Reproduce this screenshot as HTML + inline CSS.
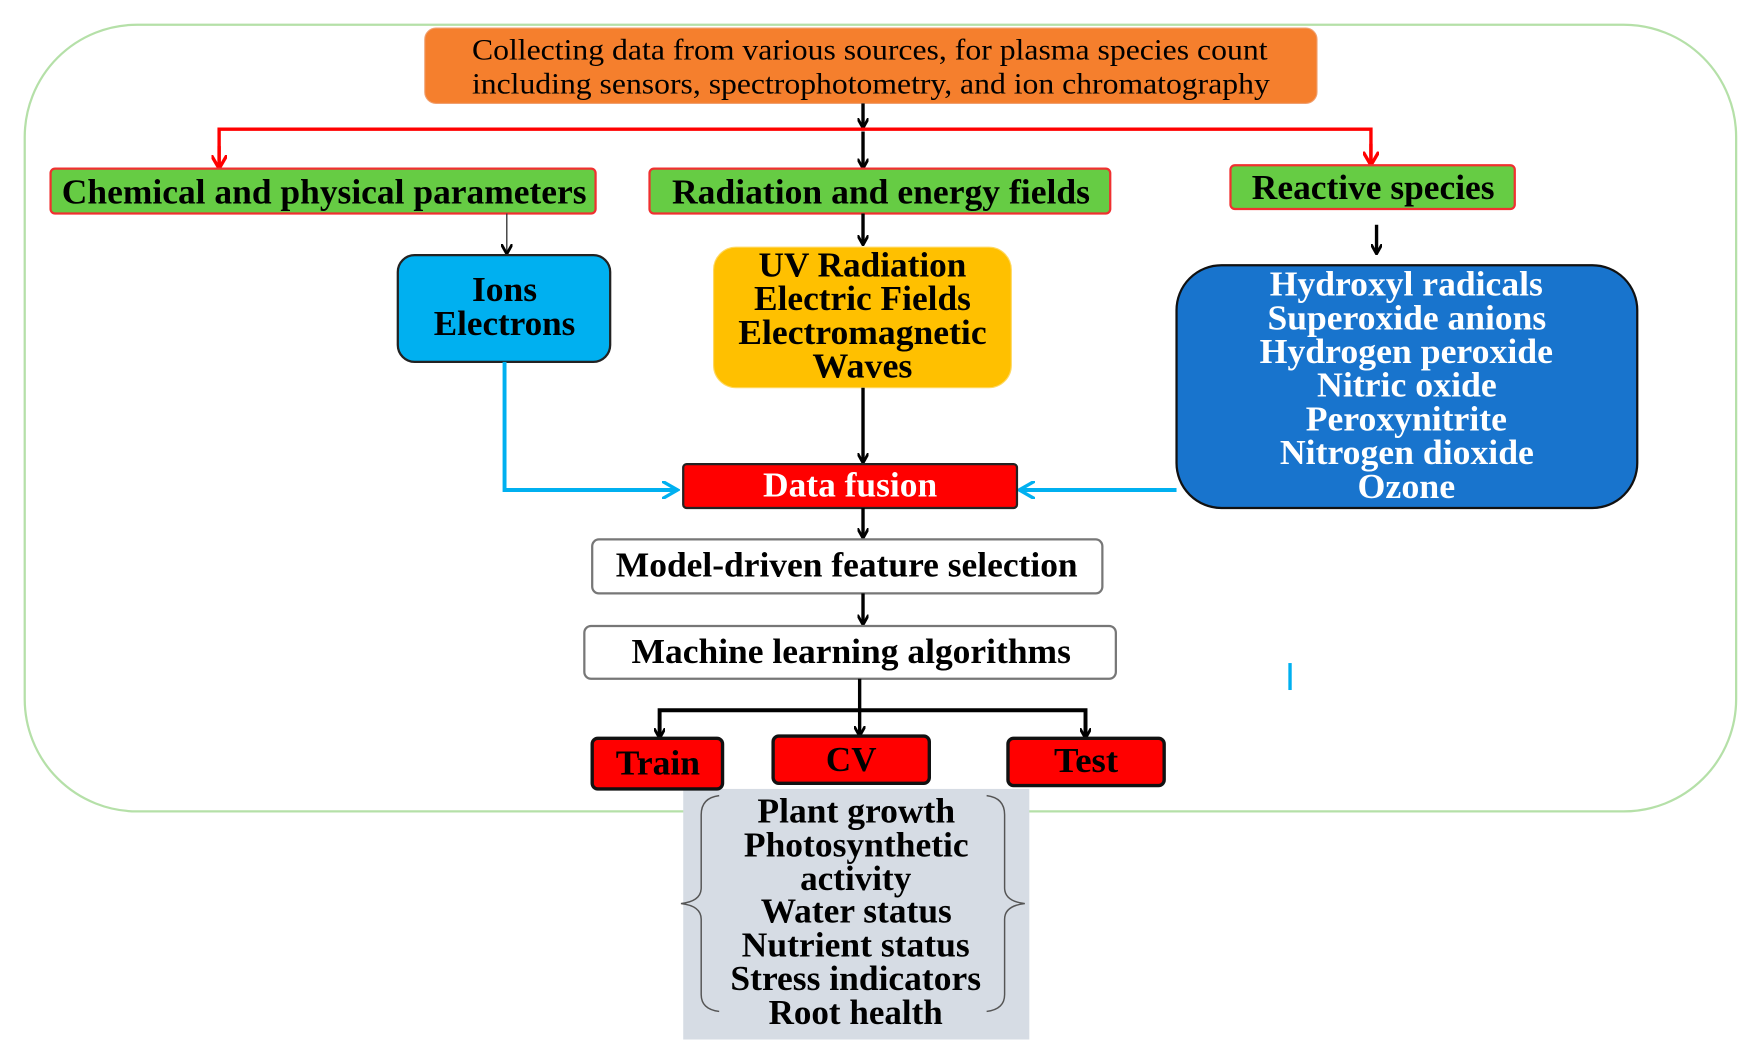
<!DOCTYPE html>
<html><head><style>html,body{margin:0;padding:0;background:#fff;}svg{display:block}</style></head>
<body>
<svg width="1753" height="1062" viewBox="0 0 1560 945" preserveAspectRatio="none" xmlns="http://www.w3.org/2000/svg" font-family="Liberation Serif, serif">
<defs>
<marker id="ab" markerWidth="10" markerHeight="10" refX="8" refY="5" orient="auto" markerUnits="userSpaceOnUse"><path d="M0,0 L9,5 L0,10" fill="none" stroke="#000" stroke-width="2.5"/></marker>
<marker id="ar" markerWidth="14" markerHeight="14" refX="12" refY="7" orient="auto" markerUnits="userSpaceOnUse"><path d="M0,0 L12,7 L0,14" fill="none" stroke="#f00" stroke-width="3"/></marker>
<marker id="ac" markerWidth="16" markerHeight="16" refX="14" refY="8" orient="auto" markerUnits="userSpaceOnUse"><path d="M0,0 L14,8 L0,16" fill="none" stroke="#00b0f0" stroke-width="3"/></marker>
</defs>
<rect x="22" y="22" width="1523" height="700" rx="100" fill="none" stroke="#b5e0a8" stroke-width="2"/>
<rect x="378" y="25" width="794" height="67" rx="10" fill="#f57f2d" stroke="#f0a070"/>
<g font-size="26" lengthAdjust="spacingAndGlyphs">
<text x="420" y="53" textLength="708" lengthAdjust="spacingAndGlyphs">Collecting data from various sources, for plasma species count</text>
<text x="420" y="83" textLength="710" lengthAdjust="spacingAndGlyphs">including sensors, spectrophotometry, and ion chromatography</text>
</g>
<line x1="768" y1="92" x2="768" y2="113" stroke="#000" stroke-width="3" marker-end="url(#ab)"/>
<polyline points="195,148 195,115 1220,115 1220,146" fill="none" stroke="#f00" stroke-width="3"/>
<line x1="195" y1="130" x2="195" y2="150" stroke="#f00" stroke-width="3" marker-end="url(#ar)"/>
<line x1="1220" y1="128" x2="1220" y2="147" stroke="#f00" stroke-width="3" marker-end="url(#ar)"/>
<line x1="768" y1="117" x2="768" y2="149" stroke="#000" stroke-width="3" marker-end="url(#ab)"/>
<g font-size="31" font-weight="bold">
<rect x="45" y="150" width="485" height="40" rx="4" fill="#66cc44" stroke="#f03030" stroke-width="2"/>
<text x="55" y="181" textLength="467" lengthAdjust="spacingAndGlyphs">Chemical and physical parameters</text>
<rect x="578" y="150" width="410" height="40" rx="4" fill="#66cc44" stroke="#f03030" stroke-width="2"/>
<text x="598" y="181" textLength="372" lengthAdjust="spacingAndGlyphs">Radiation and energy fields</text>
<rect x="1095" y="147" width="253" height="39" rx="4" fill="#66cc44" stroke="#f03030" stroke-width="2"/>
<text x="1114" y="177" textLength="216" lengthAdjust="spacingAndGlyphs">Reactive species</text>
</g>
<line x1="451" y1="190" x2="451" y2="225" stroke="#333" stroke-width="1.2" marker-end="url(#ab)"/>
<line x1="768" y1="190" x2="768" y2="217" stroke="#000" stroke-width="3" marker-end="url(#ab)"/>
<line x1="1225" y1="200" x2="1225" y2="225" stroke="#000" stroke-width="3" marker-end="url(#ab)"/>
<rect x="354" y="227" width="189" height="95" rx="15" fill="#00b0f0" stroke="#222" stroke-width="2"/>
<g font-size="31" font-weight="bold">
<text x="420" y="268" textLength="58" lengthAdjust="spacingAndGlyphs">Ions</text>
<text x="386" y="298" textLength="126" lengthAdjust="spacingAndGlyphs">Electrons</text>
</g>
<rect x="635" y="220" width="265" height="125" rx="20" fill="#ffc000" stroke="#ffd860"/>
<g font-size="31" font-weight="bold">
<text x="675" y="246" textLength="185" lengthAdjust="spacingAndGlyphs">UV Radiation</text>
<text x="671" y="276" textLength="193" lengthAdjust="spacingAndGlyphs">Electric Fields</text>
<text x="657" y="306" textLength="221" lengthAdjust="spacingAndGlyphs">Electromagnetic</text>
<text x="723" y="336" textLength="89" lengthAdjust="spacingAndGlyphs">Waves</text>
</g>
<rect x="1047" y="236" width="410" height="216" rx="40" fill="#1874cd" stroke="#111" stroke-width="2"/>
<g font-size="31" font-weight="bold" fill="#fff">
<text x="1130" y="263" textLength="243" lengthAdjust="spacingAndGlyphs">Hydroxyl radicals</text>
<text x="1128" y="293" textLength="248" lengthAdjust="spacingAndGlyphs">Superoxide anions</text>
<text x="1121" y="323" textLength="261" lengthAdjust="spacingAndGlyphs">Hydrogen peroxide</text>
<text x="1172" y="353" textLength="160" lengthAdjust="spacingAndGlyphs">Nitric oxide</text>
<text x="1162" y="383" textLength="179" lengthAdjust="spacingAndGlyphs">Peroxynitrite</text>
<text x="1139" y="413" textLength="226" lengthAdjust="spacingAndGlyphs">Nitrogen dioxide</text>
<text x="1208" y="443" textLength="87" lengthAdjust="spacingAndGlyphs">Ozone</text>
</g>
<line x1="768" y1="345" x2="768" y2="411" stroke="#000" stroke-width="3" marker-end="url(#ab)"/>
<polyline points="449,322 449,436 603,436" fill="none" stroke="#00b0f0" stroke-width="3.5" marker-end="url(#ac)"/>
<line x1="1047" y1="436" x2="907" y2="436" stroke="#00b0f0" stroke-width="3.5" marker-end="url(#ac)"/>
<rect x="608" y="413" width="297" height="39" rx="3" fill="#ff0000" stroke="#222" stroke-width="2"/>
<text x="679" y="442" font-size="31" font-weight="bold" fill="#fff" textLength="155" lengthAdjust="spacingAndGlyphs">Data fusion</text>
<line x1="768" y1="452" x2="768" y2="478" stroke="#000" stroke-width="3" marker-end="url(#ab)"/>
<rect x="527" y="480" width="454" height="48" rx="6" fill="#fff" stroke="#777" stroke-width="2"/>
<text x="548" y="513" font-size="31" font-weight="bold" textLength="411" lengthAdjust="spacingAndGlyphs">Model-driven feature selection</text>
<line x1="768" y1="528" x2="768" y2="555" stroke="#000" stroke-width="3" marker-end="url(#ab)"/>
<rect x="520" y="557" width="473" height="47" rx="6" fill="#fff" stroke="#777" stroke-width="2"/>
<text x="562" y="590" font-size="31" font-weight="bold" textLength="391" lengthAdjust="spacingAndGlyphs">Machine learning algorithms</text>
<line x1="765" y1="604" x2="765" y2="654" stroke="#000" stroke-width="3" marker-end="url(#ab)"/>
<polyline points="587,655 587,632 966,632 966,655" fill="none" stroke="#000" stroke-width="3.5"/>
<line x1="587" y1="640" x2="587" y2="656" stroke="#000" stroke-width="3" marker-end="url(#ab)"/>
<line x1="966" y1="640" x2="966" y2="656" stroke="#000" stroke-width="3" marker-end="url(#ab)"/>
<line x1="1148" y1="590" x2="1148" y2="614" stroke="#00b0f0" stroke-width="3"/>
<rect x="608" y="702" width="308" height="223" fill="#d6dce4"/>
<path d="M640,708 Q624,710 624,725 L624,790 Q624,802 606,804 Q624,806 624,818 L624,885 Q624,898 640,900" fill="none" stroke="#555" stroke-width="1.3"/>
<path d="M878,708 Q894,710 894,725 L894,790 Q894,802 912,804 Q894,806 894,818 L894,885 Q894,898 878,900" fill="none" stroke="#555" stroke-width="1.3"/>
<g font-size="31" font-weight="bold">
<text x="674" y="732" textLength="176" lengthAdjust="spacingAndGlyphs">Plant growth</text>
<text x="662" y="762" textLength="200" lengthAdjust="spacingAndGlyphs">Photosynthetic</text>
<text x="712" y="792" textLength="99" lengthAdjust="spacingAndGlyphs">activity</text>
<text x="677" y="821" textLength="170" lengthAdjust="spacingAndGlyphs">Water status</text>
<text x="660" y="851" textLength="203" lengthAdjust="spacingAndGlyphs">Nutrient status</text>
<text x="650" y="881" textLength="223" lengthAdjust="spacingAndGlyphs">Stress indicators</text>
<text x="684" y="911" textLength="155" lengthAdjust="spacingAndGlyphs">Root health</text>
</g>
<g font-size="31" font-weight="bold">
<rect x="527" y="657" width="116" height="45" rx="5" fill="#ff0000" stroke="#111" stroke-width="3"/>
<text x="548" y="689" textLength="75" lengthAdjust="spacingAndGlyphs">Train</text>
<rect x="688" y="655" width="139" height="42" rx="5" fill="#ff0000" stroke="#111" stroke-width="3"/>
<text x="735" y="686" textLength="45" lengthAdjust="spacingAndGlyphs">CV</text>
<rect x="897" y="657" width="139" height="42" rx="5" fill="#ff0000" stroke="#111" stroke-width="3"/>
<text x="938" y="687" textLength="57" lengthAdjust="spacingAndGlyphs">Test</text>
</g>
</svg>
</body></html>
